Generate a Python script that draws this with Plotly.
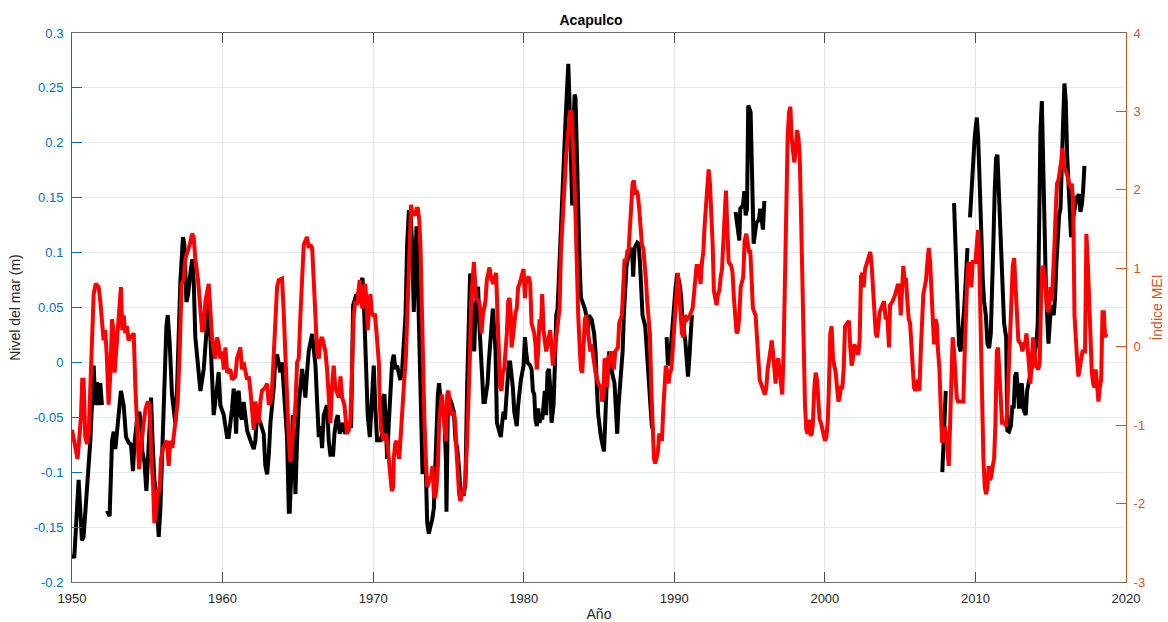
import plotly.graph_objects as go

# ---------------- data ----------------
# Sea level anomaly at Acapulco (m); None marks gaps in the record
sl_year = [
    1950.00, 1950.15, 1950.44, 1950.66, 1950.77, 1951.00, 1951.22, 1951.44, 1951.55, 1951.66,
    1951.77, 1951.88, 1951.99, 1952.15, 1952.32, 1952.50, 1952.66, 1952.77, 1952.88, 1952.99,
    1953.17, 1953.25, 1953.43, 1953.59, 1953.76, 1953.92, 1954.05, 1954.14, 1954.32, 1954.47,
    1954.58, 1954.67, 1954.81, 1954.94, 1955.07, 1955.16, 1955.25, 1955.34, 1955.47, 1955.60,
    1955.76, 1955.87, 1955.98, 1956.09, 1956.27, 1956.36, 1956.49, 1956.64, 1956.75, 1956.86,
    1956.98, 1957.09, 1957.20, 1957.37, 1957.46, 1957.60, 1957.71, 1957.86, 1957.99, 1958.08,
    1958.19, 1958.41, 1958.53, 1958.75, 1958.97, 1959.08, 1959.19, 1959.30, 1959.41, 1959.63,
    1959.74, 1959.85, 1960.08, 1960.30, 1960.41, 1960.63, 1960.74, 1960.81, 1960.90, 1960.98,
    1961.07, 1961.18, 1961.29, 1961.40, 1961.63, 1961.85, 1962.07, 1962.18, 1962.29, 1962.51,
    1962.73, 1962.84, 1962.96, 1963.07, 1963.18, 1963.40, 1963.51, 1963.62, 1963.84, 1963.95,
    1964.06, 1964.17, 1964.28, 1964.40, 1964.46, 1964.57, 1964.66, 1964.75, 1964.84, 1964.95,
    1965.06, 1965.28, 1965.39, 1965.50, 1965.61, 1965.72, 1965.95, 1966.17, 1966.28, 1966.39,
    1966.50, 1966.61, 1966.72, 1966.94, 1967.05, 1967.16, 1967.34, 1967.43, 1967.56, 1967.65,
    1967.78, 1968.00, 1968.14, 1968.38, 1968.54, 1968.67, 1968.89, 1968.98, 1969.11, 1969.29,
    1969.38, 1969.47, 1969.56, 1969.64, 1969.78, 1969.95, 1970.04, 1970.15, 1970.26, 1970.49,
    1970.60, 1970.66, 1970.75, 1970.84, 1970.93, 1971.04, 1971.15, 1971.26, 1971.37, 1971.48,
    1971.59, 1971.70, 1971.81, 1971.93, 1972.04, 1972.15, 1972.26, 1972.37, 1972.48, 1972.59,
    1972.70, 1972.81, 1972.88, 1972.97, 1973.10, 1973.19, 1973.28, 1973.37, 1973.48, 1973.59,
    1973.70, 1973.81, 1973.92, 1974.03, 1974.14, 1974.21, 1974.30, 1974.38, 1974.47, 1974.56,
    1974.65, 1974.74, 1974.83, 1974.87, 1974.96, 1975.05, 1975.18, 1975.36, 1975.47, 1975.58,
    1975.71, 1975.80, 1976.02, 1976.13, 1976.24, 1976.35, 1976.44, 1976.53, 1976.62, 1976.71,
    1976.80, 1976.97, 1977.06, 1977.15, 1977.24, 1977.33, 1977.42, 1977.60, 1977.68, 1977.86,
    1977.95, 1978.04, 1978.13, 1978.22, 1978.39, 1978.48, 1978.57, 1978.66, 1978.75, 1978.84,
    1978.92, 1979.01, 1979.10, 1979.28, 1979.37, 1979.54, 1979.63, 1979.81, 1979.99, 1980.08,
    1980.16, 1980.25, 1980.43, 1980.52, 1980.61, 1980.70, 1980.78, 1980.87, 1980.96, 1981.05,
    1981.14, 1981.23, 1981.32, 1981.40, 1981.49, 1981.58, 1981.67, 1981.76, 1981.85, 1981.98,
    1982.07, 1982.16, 1982.25, 1982.34, 1982.42, 1982.51, 1982.60, 1982.69, 1982.78, 1982.87,
    1982.96, 1983.04, 1983.13, 1983.22, 1983.29, 1983.38, 1983.44, 1983.53, 1983.62, 1983.71,
    1983.80, 1983.89, 1984.06, 1984.15, 1984.24, 1984.33, 1984.51, 1984.68, 1984.77, 1984.86,
    1984.95, 1985.13, 1985.33, 1985.41, 1985.50, 1985.68, 1985.86, 1986.03, 1986.12, 1986.21,
    1986.30, 1986.48, 1986.57, 1986.65, 1986.74, 1986.83, 1987.01, 1987.19, 1987.27, 1987.36,
    1987.54, 1987.63, 1987.72, 1987.81, 1987.89, 1988.07, 1988.16, 1988.34, 1988.43, 1988.51,
    1988.60, 1989.00, 1989.49, 1989.58, 1989.75, 1989.87, 1989.98, 1990.09, 1990.20, 1990.38,
    1990.46, 1990.55, 1990.73, 1990.82, 1990.91, 1991.00, 1991.08, 1991.17, 1992.50, 1994.07,
    1994.32, 1994.38, 1994.56, 1994.65, 1994.74, 1994.83, 1994.91, 1995.07, 1995.18, 1995.27,
    1995.45, 1995.62, 1995.71, 1995.89, 1995.98, 2001.00, 2007.80, 2007.92, 2008.03, 2008.30,
    2008.58, 2008.69, 2008.80, 2008.91, 2009.02, 2009.13, 2009.25, 2009.36, 2009.47, 2009.55,
    2009.64, 2009.80, 2009.95, 2010.09, 2010.18, 2010.26, 2010.35, 2010.49, 2010.57, 2010.69,
    2010.80, 2010.91, 2011.02, 2011.11, 2011.19, 2011.28, 2011.37, 2011.46, 2011.55, 2011.64,
    2011.73, 2011.81, 2011.90, 2012.04, 2012.12, 2012.23, 2012.35, 2012.46, 2012.54, 2012.63,
    2012.72, 2012.81, 2012.90, 2012.99, 2013.08, 2013.18, 2013.34, 2013.43, 2013.52, 2013.70,
    2013.87, 2014.05, 2014.14, 2014.23, 2014.32, 2014.41, 2014.49, 2014.58, 2014.67, 2014.76,
    2014.85, 2014.94, 2015.03, 2015.20, 2015.29, 2015.38, 2015.47, 2015.56, 2015.65, 2015.73,
    2015.82, 2015.91, 2016.00, 2016.09, 2016.18, 2016.27, 2016.35, 2016.44, 2016.62, 2016.71,
    2016.89, 2016.97, 2017.06, 2017.15, 2017.24,
]
sl_m = [
    -0.175, -0.178, -0.107, -0.162, -0.159, -0.110, -0.071, -0.003, -0.039, -0.018,
    -0.039, -0.019, -0.039, None, -0.135, -0.140, -0.071, -0.063, -0.079, -0.062,
    -0.036, -0.026, -0.039, -0.068, -0.073, -0.075, -0.099, -0.075, -0.052, -0.045,
    -0.055, -0.081, -0.091, -0.117, -0.081, -0.045, -0.032, -0.068, -0.107, -0.120,
    -0.159, -0.133, -0.088, -0.039, 0.033, 0.043, 0.017, -0.029, -0.039, -0.055,
    -0.023, 0.026, 0.075, 0.114, 0.108, 0.055, 0.062, 0.081, 0.094, 0.075,
    0.023, -0.009, -0.026, -0.006, 0.033, 0.056, 0.023, -0.009, -0.048, -0.023,
    -0.009, -0.039, -0.048, -0.068, -0.068, -0.042, -0.024, -0.039, -0.065, -0.029,
    -0.026, -0.048, -0.052, -0.036, -0.062, -0.071, -0.079, -0.071, -0.048, -0.055,
    -0.065, -0.094, -0.102, -0.084, -0.055, -0.023, 0.004, 0.007, -0.009, 0.000,
    -0.023, -0.048, -0.068, -0.136, -0.136, -0.100, -0.048, -0.071, -0.120, -0.071,
    -0.039, -0.006, -0.019, -0.032, -0.009, 0.010, 0.026, -0.003, -0.036, -0.068,
    -0.058, -0.078, -0.048, -0.039, -0.071, -0.084, -0.084, -0.065, -0.052, -0.048,
    -0.065, -0.055, -0.065, -0.058, -0.058, 0.052, 0.062, 0.059, 0.069, 0.077,
    0.056, 0.010, -0.009, -0.048, -0.068, -0.023, -0.003, -0.042, -0.071, -0.071,
    -0.065, -0.032, -0.029, -0.055, -0.088, -0.055, -0.023, 0.000, 0.007, -0.006,
    -0.003, -0.009, -0.016, -0.006, 0.023, 0.043, 0.108, 0.137, 0.137, 0.108,
    0.046, 0.121, 0.124, 0.075, 0.010, -0.023, -0.100, -0.100, -0.088, -0.146,
    -0.156, -0.149, -0.143, -0.133, -0.088, -0.065, -0.029, -0.019, -0.036, -0.048,
    -0.042, -0.055, -0.088, -0.136, -0.042, -0.032, -0.036, -0.045, -0.071, -0.078,
    -0.097, -0.120, -0.120, -0.110, -0.023, 0.059, 0.081, 0.059, 0.036, 0.010,
    0.049, 0.069, 0.033, 0.010, -0.023, -0.036, -0.036, -0.019, 0.000, 0.030,
    0.049, 0.030, 0.010, -0.055, -0.062, -0.068, -0.055, -0.045, -0.052, -0.036,
    -0.023, 0.000, 0.000, -0.023, -0.045, -0.058, -0.039, -0.016, -0.003, 0.023,
    0.010, 0.000, -0.003, -0.006, -0.026, -0.029, -0.052, -0.058, -0.042, -0.055,
    -0.048, -0.052, -0.039, -0.026, -0.048, -0.009, -0.006, -0.023, -0.055, -0.039,
    -0.003, 0.043, 0.049, 0.075, 0.108, 0.134, 0.166, 0.192, 0.221, 0.251,
    0.272, 0.238, 0.189, 0.143, 0.205, 0.244, 0.241, 0.179, 0.134, 0.091,
    0.059, 0.056, 0.049, 0.043, 0.026, 0.043, 0.039, 0.026, 0.010, -0.023,
    -0.048, -0.068, -0.081, -0.055, -0.023, 0.010, -0.009, -0.019, -0.042, -0.065,
    -0.039, -0.009, 0.010, 0.043, 0.069, 0.088, 0.101, 0.104, 0.078, 0.104,
    0.109, 0.108, 0.091, 0.059, 0.043, 0.033, 0.010, -0.023, -0.042, -0.058,
    -0.062, None, 0.023, -0.003, 0.010, 0.030, 0.056, 0.069, 0.081, 0.069,
    0.059, 0.036, 0.020, -0.003, -0.013, 0.004, 0.023, 0.043, None, 0.137,
    0.111, 0.140, 0.143, 0.156, 0.134, 0.140, 0.234, 0.228, 0.173, 0.108,
    0.127, 0.130, 0.140, 0.121, 0.147, None, -0.100, -0.055, -0.026, None,
    0.145, 0.101, 0.055, 0.016, 0.010, 0.026, 0.049, 0.075, 0.104, None,
    0.132, 0.173, 0.205, 0.223, 0.205, 0.173, 0.124, 0.075, 0.056, 0.043,
    0.017, 0.013, 0.026, 0.059, 0.108, 0.156, 0.186, 0.189, 0.156, 0.108,
    0.075, 0.049, 0.036, 0.023, -0.062, -0.063, -0.058, -0.039, -0.042, -0.013,
    -0.009, -0.023, -0.042, -0.023, -0.019, -0.042, -0.048, -0.026, -0.019, -0.009,
    0.007, 0.017, 0.036, 0.140, 0.212, 0.238, 0.173, 0.108, 0.075, 0.043,
    0.017, 0.036, 0.052, 0.043, 0.059, 0.091, 0.124, 0.134, 0.140, 0.189,
    0.218, 0.254, 0.238, 0.189, 0.156, 0.140, 0.114, 0.127, 0.147, 0.150,
    0.153, 0.137, 0.143, 0.156, 0.179,
]

# Multivariate ENSO Index (MEI)
mei_year = [
    1950.00, 1950.22, 1950.37, 1950.51, 1950.60, 1950.68, 1950.77, 1950.88, 1951.00, 1951.11,
    1951.17, 1951.26, 1951.35, 1951.44, 1951.57, 1951.77, 1951.88, 1951.99, 1952.10, 1952.21,
    1952.32, 1952.43, 1952.55, 1952.66, 1952.77, 1952.83, 1952.94, 1953.03, 1953.12, 1953.25,
    1953.34, 1953.43, 1953.54, 1953.65, 1953.76, 1953.92, 1954.10, 1954.21, 1954.32, 1954.45,
    1954.54, 1954.65, 1954.76, 1954.89, 1955.03, 1955.16, 1955.25, 1955.38, 1955.47, 1955.60,
    1955.69, 1955.82, 1955.91, 1956.05, 1956.20, 1956.31, 1956.42, 1956.53, 1956.67, 1956.80,
    1956.86, 1957.02, 1957.15, 1957.28, 1957.42, 1957.53, 1957.82, 1957.97, 1958.08, 1958.19,
    1958.37, 1958.53, 1958.64, 1958.75, 1958.86, 1959.08, 1959.19, 1959.30, 1959.41, 1959.52,
    1959.63, 1959.74, 1959.85, 1959.97, 1960.08, 1960.19, 1960.30, 1960.52, 1960.63, 1960.85,
    1960.96, 1961.18, 1961.29, 1961.40, 1961.63, 1961.74, 1961.85, 1961.96, 1962.07, 1962.18,
    1962.29, 1962.40, 1962.51, 1962.62, 1962.84, 1962.96, 1963.07, 1963.18, 1963.29, 1963.40,
    1963.51, 1963.62, 1963.73, 1963.95, 1964.06, 1964.17, 1964.28, 1964.40, 1964.51, 1964.62,
    1964.73, 1964.84, 1964.95, 1965.06, 1965.17, 1965.28, 1965.39, 1965.50, 1965.61, 1965.72,
    1965.83, 1965.95, 1966.06, 1966.17, 1966.28, 1966.39, 1966.50, 1966.61, 1966.83, 1966.94,
    1967.05, 1967.16, 1967.27, 1967.38, 1967.49, 1967.72, 1967.83, 1967.94, 1968.09, 1968.18,
    1968.27, 1968.38, 1968.49, 1968.60, 1968.71, 1968.82, 1968.93, 1969.05, 1969.11, 1969.20,
    1969.29, 1969.38, 1969.47, 1969.56, 1969.64, 1969.73, 1969.82, 1969.91, 1970.00, 1970.13,
    1970.22, 1970.31, 1970.38, 1970.44, 1970.53, 1970.71, 1970.82, 1970.93, 1971.04, 1971.15,
    1971.24, 1971.33, 1971.37, 1971.46, 1971.55, 1971.64, 1971.73, 1971.81, 1971.90, 1971.99,
    1972.08, 1972.17, 1972.26, 1972.35, 1972.44, 1972.52, 1972.61, 1972.70, 1972.79, 1972.88,
    1972.97, 1973.06, 1973.14, 1973.23, 1973.32, 1973.41, 1973.50, 1973.59, 1973.68, 1973.77,
    1973.85, 1973.94, 1974.03, 1974.12, 1974.21, 1974.30, 1974.38, 1974.47, 1974.56, 1974.65,
    1974.74, 1974.83, 1974.92, 1975.00, 1975.09, 1975.27, 1975.36, 1975.45, 1975.54, 1975.62,
    1975.71, 1975.80, 1975.91, 1976.02, 1976.13, 1976.24, 1976.33, 1976.42, 1976.51, 1976.60,
    1976.69, 1976.84, 1977.02, 1977.11, 1977.20, 1977.29, 1977.46, 1977.55, 1977.73, 1977.82,
    1977.99, 1978.08, 1978.17, 1978.26, 1978.35, 1978.44, 1978.53, 1978.61, 1978.70, 1978.79,
    1978.88, 1978.97, 1979.06, 1979.15, 1979.19, 1979.28, 1979.37, 1979.46, 1979.54, 1979.63,
    1979.72, 1979.90, 1979.99, 1980.08, 1980.16, 1980.34, 1980.43, 1980.52, 1980.70, 1980.78,
    1980.87, 1980.96, 1981.05, 1981.14, 1981.23, 1981.32, 1981.49, 1981.67, 1981.76, 1981.85,
    1981.94, 1982.11, 1982.29, 1982.38, 1982.47, 1982.56, 1982.65, 1982.73, 1982.82, 1982.91,
    1983.00, 1983.09, 1983.18, 1983.27, 1983.35, 1983.44, 1983.53, 1983.62, 1983.71, 1983.80,
    1983.89, 1983.97, 1984.06, 1984.15, 1984.24, 1984.42, 1984.51, 1984.68, 1984.77, 1984.95,
    1985.13, 1985.21, 1985.30, 1985.37, 1985.46, 1985.55, 1985.64, 1985.72, 1985.81, 1985.99,
    1986.08, 1986.26, 1986.34, 1986.43, 1986.52, 1986.61, 1986.70, 1986.79, 1986.88, 1986.96,
    1987.05, 1987.14, 1987.23, 1987.32, 1987.41, 1987.50, 1987.58, 1987.67, 1987.76, 1987.85,
    1987.94, 1988.03, 1988.12, 1988.20, 1988.29, 1988.38, 1988.47, 1988.56, 1988.65, 1988.74,
    1988.82, 1988.91, 1989.00, 1989.09, 1989.18, 1989.27, 1989.36, 1989.44, 1989.53, 1989.62,
    1989.71, 1989.80, 1989.89, 1989.98, 1990.07, 1990.15, 1990.24, 1990.33, 1990.42, 1990.51,
    1990.60, 1990.69, 1990.86, 1991.04, 1991.22, 1991.31, 1991.39, 1991.48, 1991.57, 1991.66,
    1991.75, 1991.84, 1991.93, 1992.01, 1992.10, 1992.19, 1992.28, 1992.37, 1992.46, 1992.55,
    1992.63, 1992.72, 1992.81, 1992.90, 1992.99, 1993.08, 1993.17, 1993.25, 1993.34, 1993.43,
    1993.52, 1993.61, 1993.79, 1993.87, 1993.96, 1994.05, 1994.14, 1994.23, 1994.32, 1994.41,
    1994.58, 1994.67, 1994.78, 1994.96, 1995.05, 1995.14, 1995.22, 1995.40, 1995.49, 1995.58,
    1995.67, 1995.85, 1996.02, 1996.11, 1996.20, 1996.38, 1996.47, 1996.55, 1996.64, 1996.73,
    1996.82, 1996.91, 1997.00, 1997.09, 1997.17, 1997.26, 1997.35, 1997.44, 1997.53, 1997.62,
    1997.71, 1997.79, 1997.88, 1997.97, 1998.06, 1998.15, 1998.24, 1998.33, 1998.41, 1998.50,
    1998.59, 1998.68, 1998.77, 1998.86, 1998.95, 1999.03, 1999.12, 1999.21, 1999.30, 1999.39,
    1999.48, 1999.57, 1999.65, 1999.74, 1999.83, 1999.92, 2000.01, 2000.10, 2000.19, 2000.27,
    2000.36, 2000.45, 2000.54, 2000.63, 2000.72, 2000.81, 2000.90, 2000.98, 2001.07, 2001.16,
    2001.25, 2001.34, 2001.52, 2001.60, 2001.69, 2001.78, 2001.87, 2001.96, 2002.14, 2002.22,
    2002.31, 2002.40, 2002.49, 2002.58, 2002.67, 2002.84, 2002.93, 2003.02, 2003.11, 2003.20,
    2003.29, 2003.38, 2003.47, 2003.55, 2003.64, 2003.82, 2003.93, 2004.04, 2004.15, 2004.26,
    2004.33, 2004.50, 2004.68, 2004.86, 2004.95, 2005.04, 2005.13, 2005.21, 2005.30, 2005.39,
    2005.48, 2005.57, 2005.66, 2005.75, 2005.83, 2005.92, 2006.01, 2006.10, 2006.19, 2006.28,
    2006.37, 2006.45, 2006.54, 2006.63, 2006.72, 2006.81, 2006.90, 2006.99, 2007.08, 2007.16,
    2007.25, 2007.34, 2007.43, 2007.52, 2007.61, 2007.69, 2007.78, 2007.87, 2007.96, 2008.05,
    2008.14, 2008.23, 2008.32, 2008.40, 2008.49, 2008.58, 2008.67, 2008.76, 2008.85, 2009.02,
    2009.20, 2009.29, 2009.38, 2009.47, 2009.55, 2009.64, 2009.73, 2009.82, 2010.00, 2010.09,
    2010.18, 2010.26, 2010.35, 2010.44, 2010.53, 2010.62, 2010.71, 2010.80, 2010.88, 2010.97,
    2011.06, 2011.15, 2011.24, 2011.33, 2011.42, 2011.50, 2011.59, 2011.68, 2011.77, 2011.95,
    2012.04, 2012.12, 2012.21, 2012.30, 2012.39, 2012.48, 2012.57, 2012.68, 2012.77, 2012.85,
    2013.03, 2013.12, 2013.21, 2013.30, 2013.39, 2013.47, 2013.56, 2013.65, 2013.74, 2013.83,
    2013.92, 2014.01, 2014.18, 2014.27, 2014.36, 2014.45, 2014.54, 2014.63, 2014.72, 2014.80,
    2014.89, 2014.98, 2015.07, 2015.16, 2015.25, 2015.34, 2015.42, 2015.51, 2015.60, 2015.69,
    2015.78, 2015.87, 2015.96, 2016.04, 2016.13, 2016.22, 2016.31, 2016.40, 2016.49, 2016.58,
    2016.66, 2016.75, 2016.84, 2016.93, 2017.02, 2017.11, 2017.28, 2017.37, 2017.46, 2017.55,
    2017.64, 2017.73, 2017.82, 2017.90, 2017.99, 2018.08, 2018.17, 2018.26, 2018.35, 2018.44,
    2018.53, 2018.61, 2018.70,
]
mei_val = [
    -1.06, -1.29, -1.43, -1.11, -0.88, -0.42, -0.42, -1.15, -1.24, -1.11,
    -0.83, -0.42, 0.30, 0.67, 0.80, 0.76, 0.58, 0.26, 0.08, 0.21,
    -0.15, -0.74, -0.33, 0.35, 0.17, -0.33, -0.01, 0.26, 0.40, 0.76,
    0.21, 0.40, 0.17, 0.26, 0.08, 0.12, 0.17, -0.52, -1.11, -1.56,
    -1.38, -1.15, -0.97, -0.79, -0.70, -0.74, -1.34, -1.74, -2.25, -2.06,
    -1.84, -1.84, -1.43, -1.29, -1.24, -1.20, -1.52, -1.20, -1.29, -1.06,
    -0.97, -0.70, -0.06, 0.80, 0.85, 1.12, 1.30, 1.44, 1.40, 1.12,
    0.85, 0.49, 0.21, 0.21, 0.58, 0.80, 0.40, 0.12, -0.06, -0.15,
    0.12, 0.03, -0.15, -0.06, -0.29, -0.01, -0.33, -0.29, -0.42, -0.38,
    -0.15, -0.01, -0.29, -0.20, -0.42, -0.38, -0.56, -0.88, -1.06, -0.70,
    -0.88, -0.97, -0.70, -0.56, -0.52, -0.47, -0.74, -0.70, -0.52, -0.01,
    0.44, 0.76, 0.85, 0.87, 0.44, -0.06, -0.74, -1.20, -1.47, -1.20,
    -0.97, -0.74, -0.20, -0.15, 0.40, 0.85, 1.30, 1.35, 1.40, 1.26,
    1.30, 1.26, 0.85, 0.40, -0.06, -0.15, 0.08, 0.12, -0.06, -0.29,
    -0.61, -0.97, -0.52, -0.24, -0.52, -0.65, -0.38, -0.65, -0.74, -0.97,
    -1.11, -1.06, -0.93, -0.29, 0.40, 0.58, 0.53, 0.76, 0.85, 0.58,
    0.49, 0.76, 0.80, 0.58, 0.21, 0.49, 0.67, 0.44, 0.40, 0.40,
    0.12, -0.10, -0.20, -0.74, -1.06, -1.20, -1.11, -1.20, -1.43, -1.65,
    -1.84, -1.79, -1.43, -1.24, -1.20, -1.34, -1.43, -1.20, -0.88, -0.52,
    -0.38, -0.15, 0.40, 1.08, 1.67, 1.81, 1.67, 1.71, 1.67, 1.76,
    1.76, 1.62, 1.30, 0.40, -0.52, -0.97, -1.43, -1.79, -1.74, -1.65,
    -1.70, -1.52, -1.88, -1.93, -1.79, -1.52, -0.97, -0.70, -0.61, -0.79,
    -0.97, -1.20, -0.61, -0.56, -0.74, -0.88, -0.83, -0.97, -1.34, -1.65,
    -1.88, -1.97, -1.84, -1.88, -1.65, -1.20, -0.74, -0.15, 0.58, 0.94,
    1.08, 0.62, 0.58, 0.49, 0.17, 0.40, 0.58, 0.85, 1.01, 0.89,
    0.80, 0.89, 0.94, 0.40, -0.06, -0.52, -0.56, -0.33, -0.29, -0.06,
    0.17, 0.58, 0.62, 0.40, -0.01, 0.12, 0.35, 0.44, 0.49, 0.76,
    0.80, 0.94, 0.99, 0.62, 0.85, 0.89, 0.80, 0.30, 0.17, 0.03,
    -0.29, -0.06, 0.35, 0.21, 0.67, 0.21, -0.06, 0.12, 0.21, -0.01,
    -0.24, 0.03, 0.30, 0.49, 1.21, 1.62, 1.85, 2.12, 2.44, 2.67,
    2.90, 3.01, 2.99, 2.67, 2.22, 1.67, 0.94, 0.40, 0.03, -0.29,
    -0.33, 0.03, 0.35, 0.40, 0.21, -0.06, 0.03, -0.20, -0.33, -0.47,
    -0.52, -0.70, -0.61, -0.15, -0.20, -0.52, -0.10, -0.24, -0.06, -0.29,
    -0.06, -0.01, 0.30, 0.35, 0.40, 0.76, 1.12, 1.08, 1.21, 1.21,
    1.49, 1.76, 2.08, 2.12, 1.94, 1.99, 1.94, 1.76, 1.53, 1.30,
    1.26, 1.08, 0.85, 0.58, 0.40, 0.17, -0.52, -0.97, -1.43, -1.49,
    -1.43, -1.34, -1.11, -1.15, -1.20, -0.79, -0.47, -0.24, -0.33, -0.47,
    -0.33, -0.29, -0.06, 0.21, 0.40, 0.58, 0.94, 0.67, 0.40, 0.17,
    0.12, 0.40, 0.35, 0.40, 0.49, 0.71, 0.94, 1.03, 1.03, 0.85,
    0.80, 1.08, 1.21, 1.53, 1.85, 2.12, 2.26, 2.08, 1.76, 1.30,
    0.71, 0.58, 0.53, 0.67, 0.71, 0.89, 0.99, 1.30, 1.76, 1.99,
    1.53, 1.08, 1.03, 0.94, 0.62, 0.40, 0.17, 0.21, 0.40, 0.76,
    0.89, 1.35, 1.44, 1.21, 1.21, 0.85, 0.49, 0.40, 0.17, -0.06,
    -0.42, -0.52, -0.61, -0.52, -0.29, -0.06, 0.08, -0.06, -0.33, -0.47,
    -0.20, -0.15, -0.33, -0.52, -0.61, -0.06, 0.85, 1.99, 2.67, 2.99,
    3.06, 2.67, 2.44, 2.35, 2.49, 2.76, 2.67, 2.44, 1.76, 0.85,
    -0.29, -0.74, -1.06, -1.11, -0.93, -1.11, -1.13, -0.97, -0.52, -0.33,
    -0.42, -0.74, -0.93, -0.97, -1.06, -1.11, -1.20, -1.15, -0.97, -0.52,
    0.17, 0.26, -0.15, -0.24, -0.33, -0.52, -0.70, -0.65, -0.52, -0.52,
    -0.29, 0.26, 0.30, 0.33, -0.01, -0.24, -0.15, 0.03, -0.06, -0.10,
    0.08, 0.89, 0.94, 0.76, 0.99, 1.12, 1.17, 1.21, 1.03, 0.71,
    0.30, 0.17, 0.12, 0.26, 0.44, 0.53, 0.58, 0.35, 0.40, -0.01,
    0.53, 0.58, 0.67, 0.80, 0.76, 0.40, 0.76, 1.03, 0.85, 0.85,
    0.58, 0.35, 0.30, -0.06, -0.29, -0.52, -0.56, -0.52, -0.42, -0.56,
    -0.06, 0.49, 0.67, 0.76, 0.85, 1.08, 1.26, 1.08, 0.67, 0.17,
    0.03, 0.35, 0.30, -0.06, -0.29, -0.74, -1.20, -1.20, -1.02, -1.11,
    -1.34, -1.52, -0.97, -0.29, 0.12, -0.06, -0.29, -0.65, -0.70, -0.70,
    -0.70, -0.06, 0.49, 0.94, 1.08, 0.85, 0.76, 1.08, 1.08, 1.30,
    1.49, 1.08, 0.17, -0.74, -1.43, -1.79, -1.88, -1.79, -1.52, -1.70,
    -1.65, -1.52, -1.43, -0.97, -0.06, -0.01, -0.29, -0.74, -0.97, -0.97,
    -1.02, -0.74, -0.29, 0.40, 0.85, 1.03, 1.13, 0.67, 0.17, 0.08,
    0.03, -0.06, 0.03, 0.03, 0.17, 0.03, -0.24, -0.47, -0.06, 0.12,
    -0.06, -0.24, -0.29, -0.20, 0.62, 1.03, 0.99, 0.85, 0.58, 0.44,
    0.49, 0.76, 0.58, 0.85, 1.30, 1.76, 2.08, 2.12, 2.22, 2.35,
    2.53, 2.31, 2.26, 2.22, 2.17, 2.08, 2.03, 2.08, 1.85, 0.40,
    0.03, -0.15, -0.38, -0.24, -0.15, -0.06, -0.06, 1.44, 1.08, 0.49,
    0.03, -0.33, -0.47, -0.52, -0.29, -0.52, -0.70, -0.52, -0.42, 0.44,
    0.44, 0.12, 0.17,
]

# axis ticks
x_ticks = [1950, 1960, 1970, 1980, 1990, 2000, 2010, 2020]
y_left_ticks = [-0.2, -0.15, -0.1, -0.05, 0, 0.05, 0.1, 0.15, 0.2, 0.25, 0.3]
y_left_text = ["-0.2", "-0.15", "-0.1", "-0.05", "0", "0.05", "0.1", "0.15", "0.2", "0.25", "0.3"]
y_right_ticks = [-3, -2, -1, 0, 1, 2, 3, 4]
y_right_text = ["-3", "-2", "-1", "0", "1", "2", "3", "4"]

# ---------------- figure ----------------
BLUE = "#0072BD"
ORANGE = "#D95319"
DARK = "#262626"
FONT = "Liberation Sans, Arial, Helvetica, sans-serif"

fig = go.Figure()
fig.add_trace(go.Scatter(
    x=sl_year, y=sl_m, mode="lines", name="Nivel del mar",
    line=dict(color="#000000", width=4), connectgaps=False, yaxis="y",
    showlegend=False,
))
fig.add_trace(go.Scatter(
    x=mei_year, y=mei_val, mode="lines", name="MEI",
    line=dict(color="#FF0000", width=4), yaxis="y2",
    showlegend=False,
))

fig.update_layout(
    width=1168, height=622,
    margin=dict(l=72, r=42, t=33, b=40, autoexpand=False),
    paper_bgcolor="white", plot_bgcolor="white",
    font=dict(family=FONT, size=13, color=DARK),
    title=dict(text="<b>Acapulco</b>", x=0.506, xref="container", xanchor="center",
               y=1 - 20 / 622, yref="container", yanchor="middle",
               font=dict(family=FONT, size=14, color="#000000")),
    xaxis=dict(
        range=[1950, 2020], tickvals=x_ticks, ticktext=[str(v) for v in x_ticks],
        ticks="inside", ticklen=10, tickwidth=1, tickcolor="#4d4d4d",
        showline=True, linecolor="#6e6e6e", linewidth=1, mirror="ticks",
        showgrid=True, gridcolor="#e3e3e3", gridwidth=1, zeroline=False,
        tickfont=dict(size=13, color=DARK), ticklabelstandoff=4,
        title=dict(text="Año", font=dict(size=14, color=DARK), standoff=4),
    ),
    yaxis=dict(
        range=[-0.2, 0.3], tickvals=y_left_ticks, ticktext=y_left_text,
        ticks="inside", ticklen=10, tickwidth=1, tickcolor=BLUE,
        showline=True, linecolor=BLUE, linewidth=1,
        showgrid=True, gridcolor="#dfecf6", gridwidth=1, zeroline=False,
        tickfont=dict(size=13, color=BLUE), ticklabelstandoff=5,
        title=dict(text="Nivel del mar (m)", font=dict(size=14, color=DARK), standoff=9),
    ),
    yaxis2=dict(
        range=[-3, 4], tickvals=y_right_ticks, ticktext=y_right_text,
        overlaying="y", side="right",
        ticks="inside", ticklen=10, tickwidth=1, tickcolor=ORANGE,
        showline=True, linecolor=ORANGE, linewidth=1,
        showgrid=False, zeroline=False,
        tickfont=dict(size=13, color=ORANGE), ticklabelstandoff=4,
        title=dict(text="Índice MEI", font=dict(size=14, color=ORANGE), standoff=8),
    ),
)

fig.write_html("out.html")
